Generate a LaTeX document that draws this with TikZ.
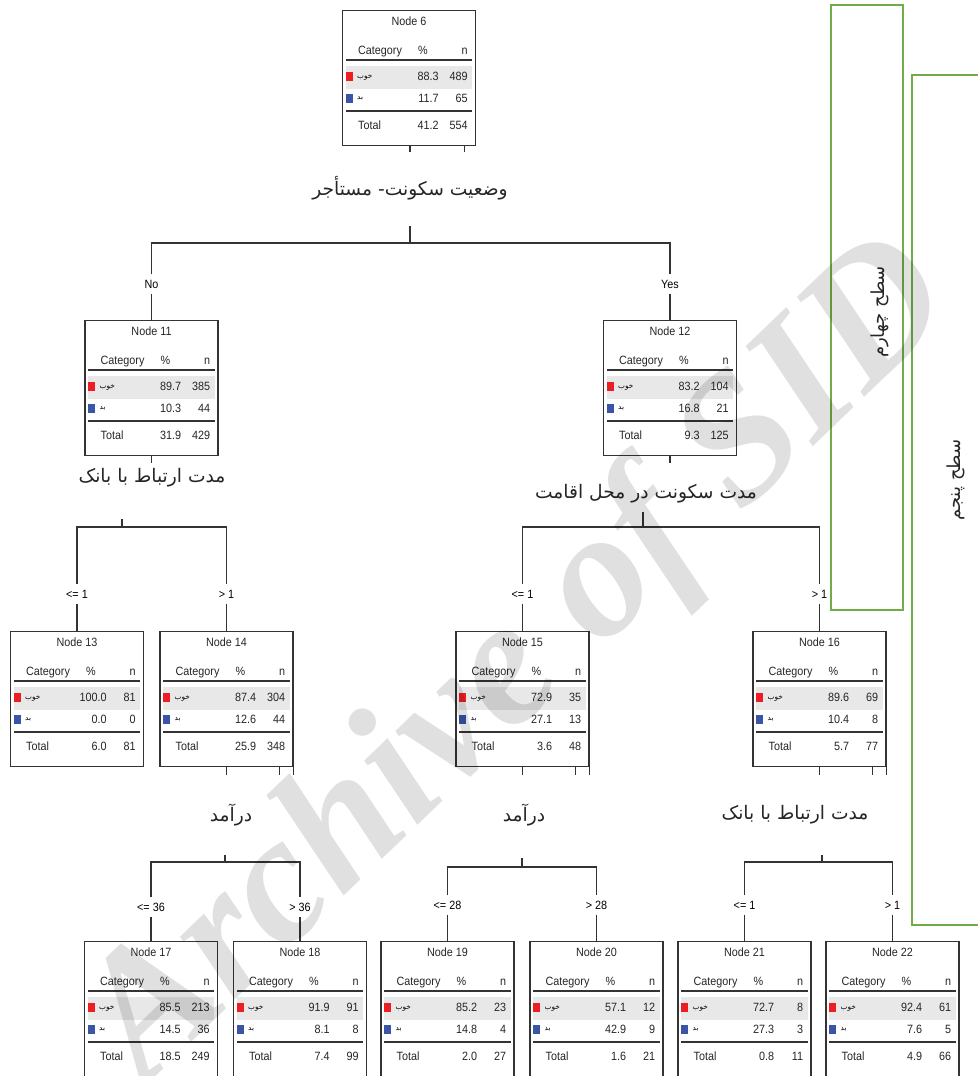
\documentclass[tikz,border=0pt]{standalone}
\usepackage{fontspec}
\usetikzlibrary{calc}
\TeXXeTstate=1
\newfontfamily\narrow[FakeStretch=0.9]{Liberation Sans}
\newfontfamily\fa[Script=Arabic]{DejaVu Sans}
\newfontfamily\wmfont{Liberation Serif}
\definecolor{catred}{HTML}{EE1D24}
\definecolor{catblue}{HTML}{3A55A8}
\definecolor{rowgray}{HTML}{E8E8E8}
\definecolor{boxgreen}{HTML}{70AD47}
\definecolor{edgec}{HTML}{333333}
\tikzset{
  tbox/.style={draw=edgec, line width=0.9pt, minimum width=99.75pt, minimum height=101.25pt, inner sep=0pt, anchor=north},
  tt/.style={font=\narrow\fontsize{9}{10}\selectfont, inner sep=0pt, text height=6.5pt, text depth=1.8pt, text=black!85},
  catlbl/.style={font=\fa\fontsize{5.5}{6}\selectfont, inner sep=0pt, anchor=west},
  rulel/.style={line width=1.1pt, draw=edgec},
  wire/.style={line width=0.9pt, draw=edgec},
  split/.style={font=\fa\fontsize{14}{16}\selectfont, inner sep=2pt, text=black!85},
  brl/.style={font=\narrow\fontsize{9}{10}\selectfont, inner sep=0pt, outer sep=4pt, text height=6.5pt, text depth=0pt},
  lvl/.style={draw=boxgreen, line width=1.9pt},
  lvltext/.style={font=\fa\fontsize{13.5}{15}\selectfont, rotate=90, inner sep=0pt, text=black!85},
}
\newcommand\treebox[9]{%
  \node[tbox] (#1) at (#2) {};
  \fill[rowgray] ($(#1.north west)+(4,56)$) rectangle ($(#1.north east)+(-4,79)$);
  \node[tt] (#1-title) at ($(#1.north)+(0,12)$) {Node #3};
  \node[tt,anchor=west] (#1-cat) at ($(#1.north west)+(16,41)$) {Category};
  \node[tt] (#1-pc) at ($(#1.north west)+(81,41)$) {\%};
  \node[tt,anchor=east] (#1-n) at ($(#1.north west)+(126,41)$) {n};
  \draw[rulel] ($(#1.north west)+(4,50)$) -- ($(#1.north east)+(-4,50)$);
  \fill[catred] ($(#1.north west)+(4,62)$) rectangle ++(7,9);
  \node[catlbl] (#1-good) at ($(#1.north west)+(15,67.5)$) {\beginR خوب\endR};
  \node[tt,anchor=east] (#1-p1) at ($(#1.north west)+(97,67.5)$) {#4};
  \node[tt,anchor=east] (#1-n1) at ($(#1.north west)+(126,67.5)$) {#5};
  \fill[catblue] ($(#1.north west)+(4,84)$) rectangle ++(7,9);
  \node[catlbl] (#1-bad) at ($(#1.north west)+(15,89)$) {\beginR بد\endR};
  \node[tt,anchor=east] (#1-p2) at ($(#1.north west)+(97,89)$) {#6};
  \node[tt,anchor=east] (#1-n2) at ($(#1.north west)+(126,89)$) {#7};
  \draw[rulel, line width=1.5pt] ($(#1.north west)+(4,101)$) -- ($(#1.north east)+(-4,101)$);
  \node[tt,anchor=west] (#1-tot) at ($(#1.north west)+(16,116)$) {Total};
  \node[tt,anchor=east] (#1-pt) at ($(#1.north west)+(97,116)$) {#8};
  \node[tt,anchor=east] (#1-nt) at ($(#1.north west)+(126,116)$) {#9};
}
\begin{document}
\begin{tikzpicture}[x=0.75pt,y=-0.75pt]
\useasboundingbox (0,0) rectangle (978,1076);
\fill[white] (0,0) rectangle (978,1076);

% level boxes
\draw[lvl] (831,5) rectangle (903,610);
\draw[lvl] (912,75) rectangle (990,925);
\node[lvltext] (lv4) at (880,312) {\beginR سطح چهارم\endR};
\node[lvltext] (lv5) at (956,480) {\beginR سطح پنجم\endR};

% nodes
\treebox{n6}{409,10}{6}{88.3}{489}{11.7}{65}{41.2}{554}
\treebox{n11}{151.5,320}{11}{89.7}{385}{10.3}{44}{31.9}{429}
\treebox{n12}{670,320}{12}{83.2}{104}{16.8}{21}{9.3}{125}
\treebox{n13}{77,631}{13}{100.0}{81}{0.0}{0}{6.0}{81}
\treebox{n14}{226.5,631}{14}{87.4}{304}{12.6}{44}{25.9}{348}
\treebox{n15}{522.5,631}{15}{72.9}{35}{27.1}{13}{3.6}{48}
\treebox{n16}{819.5,631}{16}{89.6}{69}{10.4}{8}{5.7}{77}
\treebox{n17}{151,941}{17}{85.5}{213}{14.5}{36}{18.5}{249}
\treebox{n18}{300,941}{18}{91.9}{91}{8.1}{8}{7.4}{99}
\treebox{n19}{447.5,941}{19}{85.2}{23}{14.8}{4}{2.0}{27}
\treebox{n20}{596.5,941}{20}{57.1}{12}{42.9}{9}{1.6}{21}
\treebox{n21}{744.5,941}{21}{72.7}{8}{27.3}{3}{0.8}{11}
\treebox{n22}{892.5,941}{22}{92.4}{61}{7.6}{5}{4.9}{66}

% stubs under boxes
\draw[wire] ($(n6.south)+(1,0)$) -- ++(0,6);
\draw[wire] ($(n6.south east)+(-12,0)$) -- ++(0,6);
\draw[wire] (n11.south) -- ++(0,7);
\draw[wire] (n12.south) -- ++(0,7);
\foreach \b in {n14,n15,n16}{
  \draw[wire] (\b.south) -- ++(0,8);
  \draw[wire] ($(\b.south east)+(-14,0)$) -- ++(0,8);
  \draw[wire] (\b.south east) -- ++(0,8);
}

% root split
\node[split] (s6) at (410,188) {\beginR وضعیت سکونت- مستأجر\endR};
\coordinate (b6) at (410,226);
\coordinate (j6) at (410,243);
\node[brl] (no) at (151.5,284) {No};
\node[brl] (yes) at (670,284) {Yes};
\draw[wire] (b6) -- (j6);
\draw[wire] (no) |- (j6) -| (yes);
\draw[wire] (no) -- (n11);
\draw[wire] (yes) -- (n12);

% node 11 split
\node[split] (s11) at (152,478) {\beginR مدت ارتباط با بانک\endR};
\coordinate (b11) at (122,519);
\coordinate (j11) at (122,527);
\node[brl] (le1a) at (77,594) {<= 1};
\node[brl] (gt1a) at (226.5,594) {> 1};
\draw[wire] (b11) -- (j11);
\draw[wire] (le1a) |- (j11) -| (gt1a);
\draw[wire] (le1a) -- (n13);
\draw[wire] (gt1a) -- (n14);

% node 12 split
\node[split] (s12) at (646,494) {\beginR مدت سکونت در محل اقامت\endR};
\coordinate (b12) at (643,512);
\coordinate (j12) at (643,527);
\node[brl] (le1b) at (522.5,594) {<= 1};
\node[brl] (gt1b) at (819.5,594) {> 1};
\draw[wire] (b12) -- (j12);
\draw[wire] (le1b) |- (j12) -| (gt1b);
\draw[wire] (le1b) -- (n15);
\draw[wire] (gt1b) -- (n16);

% node 14 split
\node[split] (s14) at (231,815) {\beginR درآمد\endR};
\coordinate (b14) at (225,855);
\coordinate (j14) at (225,862);
\node[brl] (le36) at (151,907) {<= 36};
\node[brl] (gt36) at (300,907) {> 36};
\draw[wire] (b14) -- (j14);
\draw[wire] (le36) |- (j14) -| (gt36);
\draw[wire] (le36) -- (n17);
\draw[wire] (gt36) -- (n18);

% node 15 split
\node[split] (s15) at (524,815) {\beginR درآمد\endR};
\coordinate (b15) at (522,858);
\coordinate (j15) at (522,867);
\node[brl] (le28) at (447.5,905) {<= 28};
\node[brl] (gt28) at (596.5,905) {> 28};
\draw[wire] (b15) -- (j15);
\draw[wire] (le28) |- (j15) -| (gt28);
\draw[wire] (le28) -- (n19);
\draw[wire] (gt28) -- (n20);

% node 16 split
\node[split] (s16) at (795,815) {\beginR مدت ارتباط با بانک\endR};
\coordinate (b16) at (822,855);
\coordinate (j16) at (822,862);
\node[brl] (le1c) at (744.5,905) {<= 1};
\node[brl] (gt1c) at (892.5,905) {> 1};
\draw[wire] (b16) -- (j16);
\draw[wire] (le1c) |- (j16) -| (gt1c);
\draw[wire] (le1c) -- (n21);
\draw[wire] (gt1c) -- (n22);

% watermark
\node[rotate=43.8, text=black, text opacity=0.12, font=\wmfont\bfseries\itshape\fontsize{136}{136}\selectfont] (wm) at (522,664) {Archive of SID};
\end{tikzpicture}
\end{document}
